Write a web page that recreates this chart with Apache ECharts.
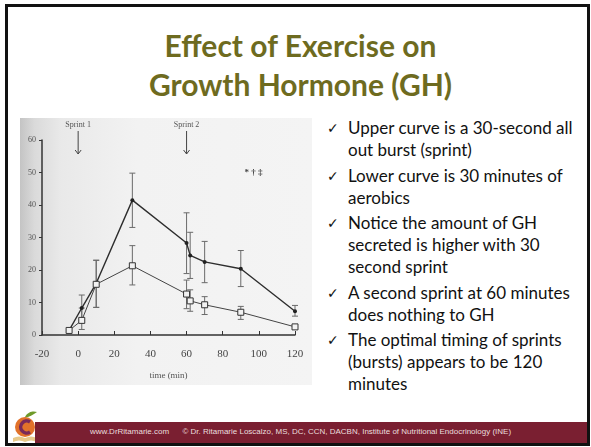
<!DOCTYPE html>
<html>
<head>
<meta charset="utf-8">
<script src="https://cdn.jsdelivr.net/npm/echarts@6/dist/echarts.min.js"></script>
<style>
html,body{margin:0;padding:0;background:#fff;}
#slide{position:relative;width:591px;height:447px;overflow:hidden;background:#fff;}
#frame{position:absolute;left:5px;top:4px;width:579px;height:436px;border:3px solid #111;}
.title{position:absolute;left:5px;width:591px;text-align:center;font-family:Lato,"Open Sans",sans-serif;font-weight:bold;font-size:30px;color:#6e6b1f;line-height:36px;}
#photo{position:absolute;left:20px;top:118px;width:292px;height:267px;
  background:linear-gradient(90deg,#c4c4c4 0%,#dadada 5%,#e9e9e9 14%,#f2f2f2 40%,#f4f4f4 100%);}
#chart{position:absolute;left:20px;top:118px;width:292px;height:267px;}
#bullets{position:absolute;left:327px;top:117px;width:250px;margin:0;padding:0;list-style:none;
  font-family:Lato,"Open Sans",sans-serif;font-size:17px;line-height:22px;color:#111;}
#bullets li{position:relative;padding-left:21px;margin-bottom:3.5px;}
#bullets li:before{content:"\2713";position:absolute;left:0;top:0;font-family:"DejaVu Sans";font-size:14px;}
#footer{position:absolute;left:35px;top:422px;width:552px;height:21px;background:#7a1f31;}
#footer span{position:absolute;left:55px;top:5px;font-family:"Liberation Sans",Arial,sans-serif;font-size:8px;color:#eadede;white-space:pre;}
#logo{position:absolute;left:12px;top:410px;width:26px;height:33px;}
</style>
</head>
<body>
<div id="slide">
  <div id="frame"></div>
  <div class="title" style="top:27px">Effect of Exercise on</div>
  <div class="title" style="top:66px">Growth Hormone (GH)</div>
  <div id="photo"></div>
  <div id="chart"></div>
  <ul id="bullets">
    <li>Upper curve is a 30-second all out burst (sprint)</li>
    <li>Lower curve is 30 minutes of aerobics</li>
    <li>Notice the amount of GH secreted is higher with 30 second sprint</li>
    <li>A second sprint at 60 minutes does nothing to GH</li>
    <li>The optimal timing of sprints (bursts) appears to be 120 minutes</li>
  </ul>
  <svg id="logo" viewBox="0 0 26 33">
    <path d="M13 7 C16 1 22 1 25 2 C21 5 17 7 13 8Z" fill="#6f9a2a"/>
    <circle cx="13" cy="17" r="10" fill="#e2722a"/>
    <path d="M18 12 A6 6 0 1 0 18 22" stroke="#7a2a5a" stroke-width="3.5" fill="none"/>
    <path d="M1 28 Q7 25 13 28 Q19 25 25 28 L25 32 Q19 29 13 32 Q7 29 1 32Z" fill="#e8c98a"/>
  </svg>
  <div id="footer"><span>www.DrRitamarie.com      © Dr. Ritamarie Loscalzo, MS, DC, CCN, DACBN, Institute of Nutritional Endocrinology (INE)</span></div>
</div>
<script>
// time points (min)
const times=[-5, 2, 10, 30, 60, 62, 70, 90, 120];
// sprint (upper curve)
const sprintMean=[1.4, 8.3, 15.9, 41.5, 28.3, 24.5, 22.5, 20.4, 7.3];
const sprintLow=[null, 4.5, 8.5, 33.1, 18.9, 17.4, 16.1, 14.9, 5.8];
const sprintHigh=[null, 12.3, 23, 49.8, 37.6, 31.6, 28.8, 26, 9.1];
// aerobics (lower curve)
const aerobicMean=[1.4, 4.5, 15.6, 21.3, 12.6, 10.5, 9.3, 7.0, 2.5];
const aerobicLow=[null, 1.7, 8.5, 15.4, 8.1, 7.3, 6.3, 4.8, null];
const aerobicHigh=[null, 8.3, 23, 27.5, 16.9, 13.9, 11.8, 8.8, null];
// axis ticks
const xTicks=[-20, 0, 20, 40, 60, 80, 100, 120];
const yTicks=[0, 10, 20, 30, 40, 50, 60];
const sprintMarks=[{label:"Sprint 1",t:0},{label:"Sprint 2",t:60}];

function pairs(ys){
    return times.map((t,i)=>[t,ys[i]]);
}
function errRows(lo,hi){
    let rows=[];
    times.forEach((t,i)=>{
        if(lo[i]!=null&&hi[i]!=null) rows.push([t,lo[i],hi[i]]);
    });
    return rows;
}
function renderErr(params,api){
    let x=api.value(0);
    let a=api.coord([x,api.value(1)]);
    let b=api.coord([x,api.value(2)]);
    let st={stroke:"#6a6a6a",lineWidth:1};
    return {type:"group",children:[
        {type:"line",shape:{x1:a[0],y1:a[1],x2:b[0],y2:b[1]},style:st},
        {type:"line",shape:{x1:a[0]-3,y1:a[1],x2:a[0]+3,y2:a[1]},style:st},
        {type:"line",shape:{x1:b[0]-3,y1:b[1],x2:b[0]+3,y2:b[1]},style:st}
    ]};
}

const chart=echarts.init(document.getElementById("chart"));
const serif="'Liberation Serif','DejaVu Serif',serif";
const option={
    animation:false,
    grid:{left:22,right:17,top:22,bottom:48},
    xAxis:{
        type:"value",min:xTicks[0],max:xTicks[xTicks.length-1],interval:20,
        name:"time (min)",nameLocation:"middle",nameGap:36,
        nameTextStyle:{fontFamily:serif,fontSize:9,color:"#555"},
        axisLine:{lineStyle:{color:"#333",width:1.5}},
        axisTick:{inside:true,length:4,lineStyle:{color:"#333"}},
        axisLabel:{fontFamily:serif,fontSize:11,color:"#444",margin:14},
        splitLine:{show:false}
    },
    yAxis:{
        type:"value",min:yTicks[0],max:yTicks[yTicks.length-1],interval:10,
        axisLine:{show:true,onZero:false,lineStyle:{color:"#333",width:1.5}},
        axisTick:{show:true,length:3,lineStyle:{color:"#333"}},
        axisLabel:{fontFamily:serif,fontSize:8,color:"#555",margin:6},
        splitLine:{show:false}
    },
    series:[
        {type:"custom",renderItem:renderErr,data:errRows(sprintLow,sprintHigh),z:1,silent:true},
        {type:"custom",renderItem:renderErr,data:errRows(aerobicLow,aerobicHigh),z:1,silent:true},
        {
            name:"Sprint",type:"line",data:pairs(sprintMean),z:3,
            lineStyle:{color:"#2e2e2e",width:1.4},
            symbol:"circle",symbolSize:4,
            itemStyle:{color:"#222"}
        },
        {
            name:"Aerobics",type:"line",data:pairs(aerobicMean),z:4,
            lineStyle:{color:"#444",width:1},
            symbol:"rect",symbolSize:6,
            itemStyle:{color:"#f2f2f2",borderColor:"#333",borderWidth:1}
        }
    ]
};
chart.setOption(option);

// sprint arrows and significance marks above the plot
let extras=[];
sprintMarks.forEach(m=>{
    let p=chart.convertToPixel({gridIndex:0},[m.t,60]);
    let x=p[0];
    extras.push({type:"text",x:x,y:p[1]-15,style:{text:m.label,font:"8px "+serif,fill:"#555",align:"center",verticalAlign:"middle"}});
    extras.push({type:"line",shape:{x1:x,y1:p[1]-9,x2:x,y2:p[1]+14},style:{stroke:"#444",lineWidth:1}});
    extras.push({type:"polyline",shape:{points:[[x-3,p[1]+10],[x,p[1]+14],[x+3,p[1]+10]]},style:{stroke:"#444",lineWidth:1,fill:null}});
});
let sig=chart.convertToPixel({gridIndex:0},[97,50]);
extras.push({type:"text",x:sig[0],y:sig[1],style:{text:"* † ‡",font:"bold 9px "+serif,fill:"#444",align:"center",verticalAlign:"middle"}});
chart.setOption({graphic:extras});
</script>
</body>
</html>
